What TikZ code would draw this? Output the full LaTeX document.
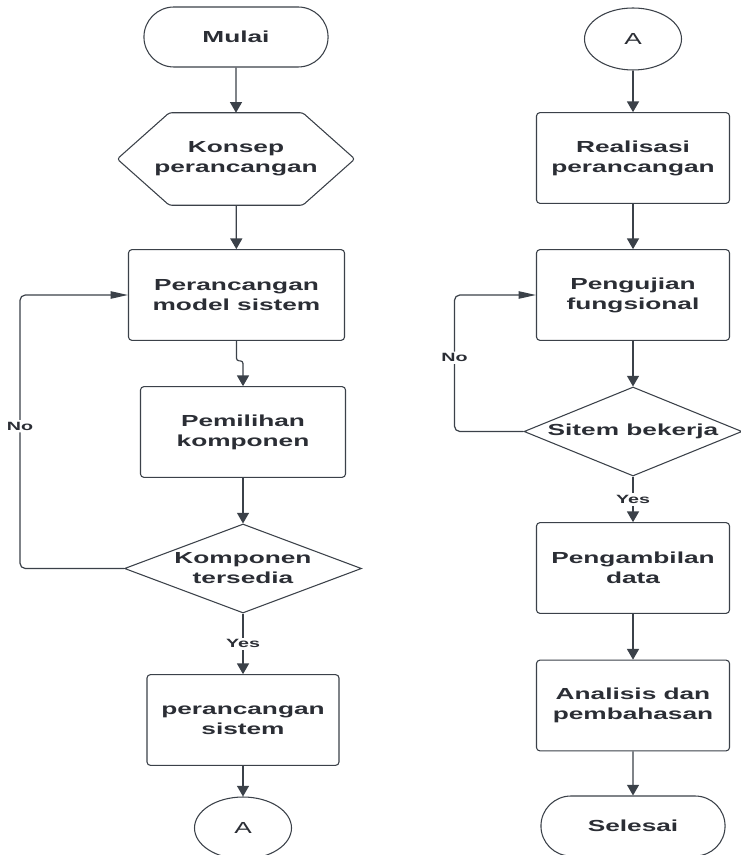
\documentclass[tikz,border=0pt]{standalone}
\usepackage{fontspec}
\setmainfont{Liberation Sans}[FakeStretch=1.64]
\usetikzlibrary{arrows.meta,positioning,shapes.geometric,shapes.misc}
\definecolor{lineclr}{HTML}{3B4149}
\definecolor{txtclr}{HTML}{2B2E35}

\begin{document}
\begin{tikzpicture}[
    x=0.75pt, y=-0.75pt,
    every node/.style={text=txtclr, align=center},
    startstop/.style={rounded rectangle, draw=lineclr, line width=0.8pt, minimum width=144.75pt, minimum height=45pt, font=\fontsize{12}{15}\selectfont\bfseries},
    process/.style={rectangle, draw=lineclr, line width=0.8pt, rounded corners=2.5pt, minimum width=144.75pt, minimum height=68pt, font=\fontsize{12}{15}\selectfont\bfseries},
    prep/.style={rectangle, inner sep=0pt, minimum width=177.75pt, minimum height=69pt, font=\fontsize{12}{15}\selectfont\bfseries},
    decision/.style={diamond, draw=lineclr, line width=0.8pt, inner sep=0pt, aspect=2.6, minimum width=177.75pt, minimum height=66.75pt, font=\fontsize{12}{15}\selectfont\bfseries},
    onpage/.style={ellipse, draw=lineclr, line width=0.8pt, minimum width=72.75pt, minimum height=46.5pt, font=\fontsize{12}{15}\selectfont},
    arr/.style={draw=lineclr, line width=0.9pt, -{Triangle[length=8pt,width=9pt]}},
    backarr/.style={draw=lineclr, line width=0.9pt, rounded corners=4pt, -{Triangle[length=13pt,width=5.5pt]}},
    ans/.style={fill=white, inner sep=1.5pt, font=\fontsize{9}{11}\selectfont\bfseries}
]

% Page
\fill[white] (0,0) rectangle (740,855);
\useasboundingbox (0,0) rectangle (740,855);

% Left column
\node[startstop] (mulai) at (236,37) {Mulai};
\node[prep] (konsep) at (236,159) {Konsep\\perancangan};
\draw[lineclr, line width=0.8pt, rounded corners=2pt] (konsep.west) -- ([xshift=39pt]konsep.north west) -- ([xshift=-39pt]konsep.north east) -- (konsep.east) -- ([xshift=-39pt]konsep.south east) -- ([xshift=39pt]konsep.south west) -- cycle;
\node[process, minimum width=162pt] (model) at (236.5,295) {Perancangan\\model sistem};
\node[process, minimum width=153.75pt] (pemilihan) at (243,432) {Pemilihan\\komponen};
\node[decision] (komponen) at (243,568.5) {Komponen\\tersedia};
\node[process, minimum width=144pt] (persis) at (243,720) {perancangan\\sistem};
\node[onpage] (a1) at (243,828) {A};

% Right column
\node[onpage] (a2) at (633,39) {A};
\node[process] (realisasi) at (633,158) {Realisasi\\perancangan};
\node[process] (pengujian) at (633,295) {Pengujian\\fungsional};
\node[decision, aspect=2.45, minimum width=163.5pt] (sitem) at (633,431.5) {Sitem bekerja};
\node[process] (pengambilan) at (633,568) {Pengambilan\\data};
\node[process] (analisis) at (633,705.5) {Analisis dan\\pembahasan};
\node[startstop] (selesai) at (633,826) {Selesai};

% Left flow
\draw[arr] (mulai) -- (konsep);
\draw[arr] (konsep) -- (model);
\draw[arr, rounded corners=2pt] (model.south) -- ++(0,20) -| (pemilihan.north);
\draw[arr] (pemilihan) -- (komponen);
\draw[arr] (komponen) -- node[ans] {Yes} (persis);
\draw[arr] (persis) -- (a1);
\draw[backarr] (komponen.west) -- ++(-104,0) |- node[ans, pos=0.26] {No} (model.west);

% Right flow
\draw[arr] (a2) -- (realisasi);
\draw[arr] (realisasi) -- (pengujian);
\draw[arr] (pengujian) -- (sitem);
\draw[arr] (sitem) -- node[ans] {Yes} (pengambilan);
\draw[arr] (pengambilan) -- (analisis);
\draw[arr] (analisis) -- (selesai);
\draw[backarr] (sitem.west) -- ++(-69,0) |- node[ans, pos=0.27] {No} (pengujian.west);

\end{tikzpicture}
\end{document}
